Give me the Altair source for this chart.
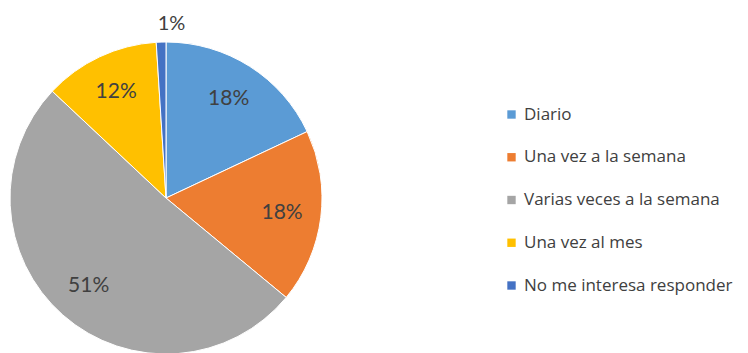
import altair as alt
import pandas as pd

categories = ["Diario", "Una vez a la semana", "Varias veces a la semana", "Una vez al mes", "No me interesa  responder"]
values = [18, 18, 51, 12, 1]
labels = ["18%", "18%", "51%", "12%", "1%"]
colors = ["#5B9BD5", "#ED7D31", "#A5A5A5", "#FFC000", "#4472C4"]

df = pd.DataFrame({"cat": categories, "val": values, "lab": labels, "idx": list(range(len(values)))})

cx, cy, R = 158, 190, 156

base = alt.Chart(df).encode(
    theta=alt.Theta("val:Q", stack=True),
    order=alt.Order("idx:Q"),
)

pie = base.mark_arc(outerRadius=R, stroke="white", strokeWidth=1).encode(
    x=alt.value(cx), y=alt.value(cy),
    color=alt.Color(
        "cat:N",
        scale=alt.Scale(domain=categories, range=colors),
        sort=categories,
        legend=alt.Legend(
            title=None, orient="none", legendX=495, legendY=98,
            symbolType="square", symbolSize=70, symbolStrokeWidth=0,
            labelFontSize=17, labelFont="Open Sans", labelColor="#404040",
            rowPadding=24.75, labelOffset=4, labelLimit=300,
        ),
    ),
)

inner = base.transform_filter(alt.datum.val > 5).mark_text(
    radius=117, fontSize=21, font="Lato", color="#404040"
).encode(x=alt.value(cx), y=alt.value(cy), text="lab:N")

outer = base.transform_filter(alt.datum.val <= 5).mark_text(
    radius=174, fontSize=20, font="Lato", color="#404040"
).encode(x=alt.value(cx), y=alt.value(cy), text="lab:N")

chart = (pie + inner + outer).properties(
    width=732, height=345, padding=0, autosize=alt.AutoSizeParams(type="none")
).configure_view(stroke=None)

chart.save("out.html", embed_options={"renderer": "svg", "actions": False})
